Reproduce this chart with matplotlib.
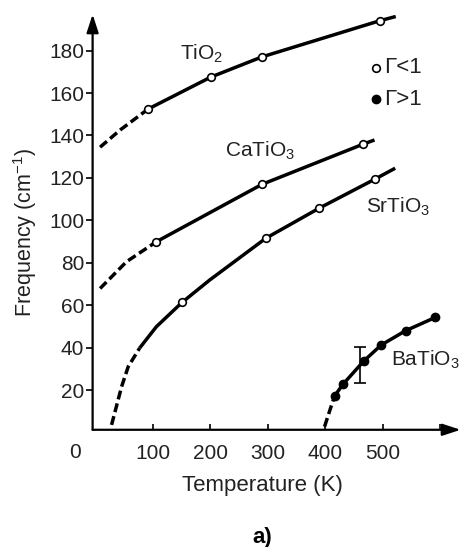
import matplotlib
matplotlib.use("Agg")
import matplotlib.pyplot as plt

plt.rcParams['font.family'] = ['Liberation Sans', 'DejaVu Sans']
plt.rcParams['mathtext.fontset'] = 'custom'
plt.rcParams['mathtext.rm'] = 'Liberation Sans'
plt.rcParams['mathtext.it'] = 'Liberation Sans'
plt.rcParams['mathtext.default'] = 'regular'

# ---------------- data ----------------
x_ticks = [100, 200, 300, 400, 500, 600]
x_tick_labels = ['100', '200', '300', '400', '500', '']
y_ticks = [20, 40, 60, 80, 100, 120, 140, 160, 180]

# TiO2 (Gamma < 1, open markers)
tio2_T = [92, 201, 290, 495]
tio2_F = [152.5, 167.5, 177, 194]
tio2_line_T = [92, 201, 290, 495, 523]
tio2_line_F = [152.5, 167.5, 177, 194, 196]
tio2_dash_T = [8, 43, 92]
tio2_dash_F = [134.5, 142.6, 152.5]

# CaTiO3
catio3_T = [106, 290, 466]
catio3_F = [90, 117, 135.9]
catio3_line_T = [106, 290, 466, 486]
catio3_line_F = [90, 117, 135.9, 137.9]
catio3_dash_T = [8, 54, 106]
catio3_dash_F = [68, 80.6, 90]

# SrTiO3
srtio3_T = [151, 296.5, 389, 487]
srtio3_F = [61.5, 91.6, 105.7, 119.5]
srtio3_line_T = [77, 106, 151, 199, 296.5, 389, 487, 522]
srtio3_line_F = [40, 50, 61.5, 72, 91.6, 105.7, 119.5, 124.6]
srtio3_dash_T = [28, 45.5, 57, 77]
srtio3_dash_F = [3.8, 21.8, 31.2, 40]

# BaTiO3 (Gamma > 1, filled markers)
batio3_T = [416.5, 431, 467.5, 497.7, 540, 592]
batio3_F = [17.4, 22.9, 33.9, 41.4, 48.1, 54.4]
batio3_dash_T = [399, 408, 416.5]
batio3_dash_F = [3, 10.5, 17.4]
batio3_err_T = [460]
batio3_err_F = [31.85]
batio3_err = [8.45]

# ---------------- figure ----------------
fig = plt.figure(figsize=(4.61, 5.47), dpi=100)
ax = fig.add_axes([0.2009, 0.2143, 0.7983, 0.7594])
ax.set_xlim(-5, 636)
ax.set_ylim(1.5, 197)

for s in ax.spines.values():
    s.set_visible(False)

arrow_kw = dict(arrowstyle='-|>,head_length=1.1,head_width=0.36', color='black',
                lw=1.6, shrinkA=0, shrinkB=0, mutation_scale=10)
ax.annotate('', xy=(636, 1.5), xytext=(-5, 1.5), arrowprops=arrow_kw, annotation_clip=False)
ax.annotate('', xy=(-5, 197), xytext=(-5, 1.5), arrowprops=arrow_kw, annotation_clip=False)

tc = '#222222'
fs_tick = 15
ax.set_xticks(x_ticks)
ax.set_xticklabels(x_tick_labels)
ax.set_yticks(y_ticks)
ax.tick_params(axis='x', direction='in', length=4.5, width=1.4, pad=10, labelsize=fs_tick, colors=tc)
ax.tick_params(axis='y', direction='out', length=5, width=1.4, pad=1, labelsize=fs_tick, colors=tc)
ax.text(-36, -9, '0', ha='center', va='center', fontsize=fs_tick, color=tc, clip_on=False)

lw = 2.5
dash = (2.6, 1.2)
ok = dict(marker='o', ms=5.5, mfc='white', mec='black', mew=1.2, ls='none', zorder=4)
fk = dict(marker='o', ms=6, mfc='black', mec='black', ls='none', zorder=4)

ax.plot(tio2_line_T, tio2_line_F, color='black', lw=lw, solid_capstyle='butt')
ax.plot(tio2_dash_T, tio2_dash_F, color='black', lw=lw, ls=(0, dash))
ax.plot(tio2_T, tio2_F, **ok)

ax.plot(catio3_line_T, catio3_line_F, color='black', lw=lw, solid_capstyle='butt')
ax.plot(catio3_dash_T, catio3_dash_F, color='black', lw=lw, ls=(0, dash))
ax.plot(catio3_T, catio3_F, **ok)

ax.plot(srtio3_line_T, srtio3_line_F, color='black', lw=lw, solid_capstyle='butt')
ax.plot(srtio3_dash_T, srtio3_dash_F, color='black', lw=lw, ls=(0, dash))
ax.plot(srtio3_T, srtio3_F, **ok)

ax.plot(batio3_T, batio3_F, color='black', lw=lw, solid_capstyle='butt')
ax.plot(batio3_dash_T, batio3_dash_F, color='black', lw=lw, ls=(0, dash))
ax.plot(batio3_T, batio3_F, **fk)
ax.errorbar(batio3_err_T, batio3_err_F, yerr=batio3_err, fmt='none', ecolor='black',
            elinewidth=1.2, capsize=4, capthick=1.2)

# labels
fs_lab = 15
ax.text(147, 175.5, 'TiO$_2$', fontsize=fs_lab, va='baseline', color=tc)
ax.text(225, 130, 'CaTiO$_3$', fontsize=fs_lab, va='baseline', color=tc)
ax.text(472, 103.5, 'SrTiO$_3$', fontsize=fs_lab, va='baseline', color=tc)
ax.text(515, 31.5, 'BaTiO$_3$', fontsize=fs_lab, va='baseline', color=tc, clip_on=False)

# legend
ax.plot([488], [172], **ok)
ax.plot([488], [157], **fk)
ax.text(502, 172, 'Γ<1', fontsize=16, va='center', ha='left', color=tc)
ax.text(502, 157, 'Γ>1', fontsize=16, va='center', ha='left', color=tc)

fig.text(25/461, 1-232/547, 'Frequency (cm$^{-1}$)', rotation=90, ha='center', va='center',
         fontsize=15.5, color=tc)
fig.text(262/461, 1-485/547, 'Temperature (K)', ha='center', va='center', fontsize=16, color=tc)
fig.text(262.5/461, 1-538/547, 'a)', ha='center', va='center', fontsize=16, fontweight='bold', color='black')

fig.savefig('out.png', dpi=100)
